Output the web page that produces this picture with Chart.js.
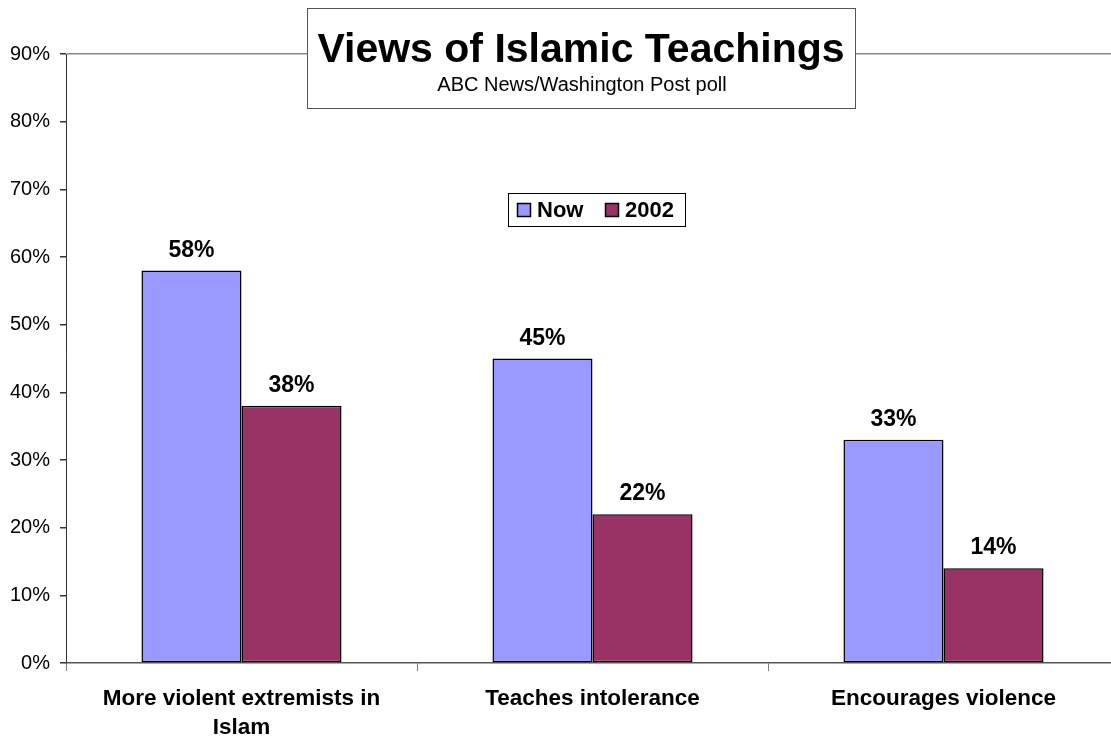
<!DOCTYPE html>
<html>
<head>
<meta charset="utf-8">
<script src="https://cdn.jsdelivr.net/npm/chart.js@4"></script>
<style>
  html, body { margin: 0; padding: 0; background: #fff; overflow: hidden; }
  #wrap { width: 1120px; height: 740px; }
</style>
</head>
<body>
<div id="wrap"><canvas id="islamChart" width="1120" height="740"></canvas></div>
<script>
const categories = [['More violent extremists in', 'Islam'], 'Teaches intolerance', 'Encourages violence'];
const nowValues = [58, 45, 33];
const values2002 = [38, 22, 14];
const seriesNames = ['Now', '2002'];
const yTicks = [0, 10, 20, 30, 40, 50, 60, 70, 80, 90];

const FONT = '"Liberation Sans", Arial, sans-serif';

// title box, legend box and value labels drawn on top
const overlay = {
    id: 'overlay',
    afterDatasetsDraw(chart) {
        const ctx = chart.ctx;
        ctx.save();
        ctx.font = 'bold 23px ' + FONT;
        ctx.fillStyle = '#000';
        ctx.textAlign = 'center';
        ctx.textBaseline = 'alphabetic';
        chart.data.datasets.forEach((ds, i) => {
            chart.getDatasetMeta(i).data.forEach((bar, j) => {
                ctx.fillText(ds.data[j] + '%', bar.x, bar.y - 14);
            });
        });
        ctx.restore();
    },
    afterDraw(chart) {
        const ctx = chart.ctx;
        ctx.save();

        // title box
        ctx.fillStyle = '#fff';
        ctx.fillRect(307.5, 8.5, 548, 100);
        ctx.strokeStyle = '#555';
        ctx.lineWidth = 1;
        ctx.strokeRect(307.5, 8.5, 548, 100);
        ctx.fillStyle = '#000';
        ctx.textAlign = 'center';
        ctx.font = 'bold 41px ' + FONT;
        ctx.fillText('Views of Islamic Teachings', 581, 62);
        ctx.font = '20px ' + FONT;
        ctx.fillText('ABC News/Washington Post poll', 582, 91);

        // legend box
        ctx.fillStyle = '#fff';
        ctx.fillRect(508.5, 193.5, 177, 33);
        ctx.strokeStyle = '#000';
        ctx.strokeRect(508.5, 193.5, 177, 33);
        ctx.font = 'bold 22px ' + FONT;
        ctx.textAlign = 'left';
        ctx.textBaseline = 'middle';
        const items = [{ x: 517 }, { x: 605 }];
        chart.data.datasets.forEach((ds, i) => {
            const x = items[i].x;
            ctx.fillStyle = ds.backgroundColor;
            ctx.fillRect(x + 0.5, 203.5, 13, 13);
            ctx.strokeStyle = '#000';
            ctx.lineWidth = 1.5;
            ctx.strokeRect(x + 0.5, 203.5, 13, 13);
            ctx.fillStyle = '#000';
            ctx.fillText(ds.label, x + 20, 211);
        });
        ctx.restore();
    }
};

new Chart(document.getElementById('islamChart'), {
    type: 'bar',
    data: {
        labels: categories,
        datasets: [
            {
                label: seriesNames[0],
                data: nowValues,
                backgroundColor: '#9999FF',
                borderColor: '#000',
                borderWidth: 1.5,
                borderSkipped: false
            },
            {
                label: seriesNames[1],
                data: values2002,
                backgroundColor: '#993366',
                borderColor: '#000',
                borderWidth: 1.5,
                borderSkipped: false
            }
        ]
    },
    options: {
        responsive: false,
        animation: false,
        devicePixelRatio: 1,
        categoryPercentage: 0.57,
        barPercentage: 1,
        layout: { padding: { top: 54, right: 1, left: 0, bottom: 0 } },
        plugins: {
            legend: { display: false },
            title: { display: false },
            tooltip: { enabled: false }
        },
        scales: {
            x: {
                grid: {
                    offset: true,
                    drawOnChartArea: false,
                    tickLength: 8,
                    color: '#808080'
                },
                border: { color: '#555', width: 1.5 },
                ticks: {
                    color: '#000',
                    font: { family: FONT, size: 22.5, weight: 'bold', lineHeight: 1.3 },
                    padding: 13,
                    maxRotation: 0,
                    autoSkip: false
                },
                afterFit(scale) { scale.height = 77; }
            },
            y: {
                min: 0,
                max: 90,
                afterBuildTicks(scale) { scale.ticks = yTicks.map(v => ({ value: v })); },
                grid: {
                    color: c => (c.tick && c.tick.value === 90) ? '#888' : 'rgba(0,0,0,0)',
                    lineWidth: 1.5,
                    tickColor: '#333',
                    tickLength: 6
                },
                border: { color: '#333', width: 1 },
                ticks: {
                    color: '#000',
                    font: { family: FONT, size: 20 },
                    padding: 10,
                    callback: v => v + '%'
                },
                afterFit(scale) { scale.width = 66; }
            }
        }
    },
    plugins: [overlay]
});
</script>
</body>
</html>
